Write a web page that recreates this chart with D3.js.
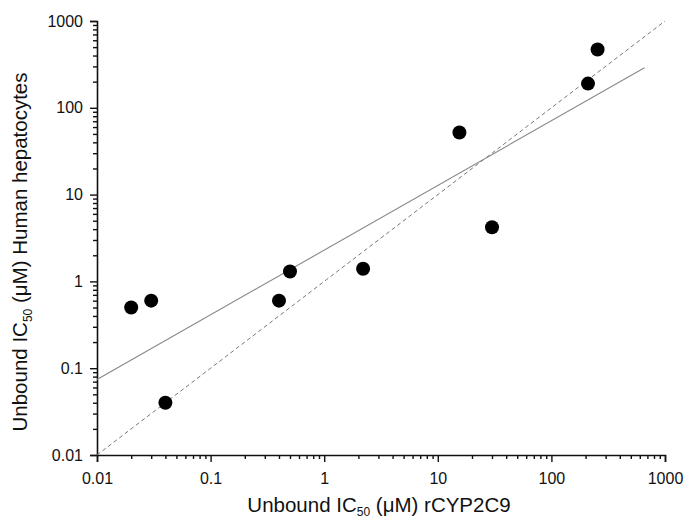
<!DOCTYPE html>
<meta charset="utf-8">
<style>
body { margin: 0; background: #fff; }
svg text { font-family: "Liberation Sans", Arial, sans-serif; fill: #111; }
</style>
<body>
<script src="https://d3js.org/d3.v7.min.js"></script>
<script>

// unbound IC50 values (uM)
var rcyp = [0.02, 0.03, 0.04, 0.4, 0.5, 2.2, 15.5, 30, 210, 255];
var hepato = [0.5, 0.6, 0.04, 0.6, 1.3, 1.4, 52, 4.2, 190, 470];

// line of unity and the fitted regression line (end points)
var unityX = [0.01, 1000], unityY = [0.01, 1000];
var fitX = [0.01, 660], fitY = [0.074, 290];

var tickValues = [0.01, 0.1, 1, 10, 100, 1000];
var tickLabels = ["0.01", "0.1", "1", "10", "100", "1000"];

var margin = {top: 21, right: 23, bottom: 66, left: 97},
    width = 688 - margin.left - margin.right,
    height = 521 - margin.top - margin.bottom;

var svg = d3.select("body").append("svg")
    .attr("width", 688)
    .attr("height", 521)
  .append("g")
    .attr("transform", "translate(" + margin.left + "," + margin.top + ")");

var x = d3.scaleLog().domain([0.01, 1000]).range([0, 568]);
var y = d3.scaleLog().domain([0.01, 1000]).range([height, 0]);

// minor ticks, 2..9 in every decade
var minor = [];
for (var e = -2; e < 3; e++) {
  for (var m = 2; m < 10; m++) minor.push(m * Math.pow(10, e));
}

function fmt(d) { return tickLabels[tickValues.indexOf(d)]; }

svg.append("g")
    .attr("transform", "translate(0," + height + ")")
    .call(d3.axisBottom(x).tickValues(tickValues).tickFormat(fmt).tickSize(7).tickPadding(11));
svg.append("g")
    .attr("transform", "translate(0," + height + ")")
    .call(d3.axisBottom(x).tickValues(minor).tickFormat("").tickSize(4))
    .select(".domain").remove();

svg.append("g")
    .call(d3.axisLeft(y).tickValues(tickValues).tickFormat(fmt).tickSize(7).tickPadding(7));
svg.append("g")
    .call(d3.axisLeft(y).tickValues(minor).tickFormat("").tickSize(4))
    .select(".domain").remove();

svg.selectAll(".domain").attr("stroke", "#111").attr("stroke-width", 1.6);
svg.selectAll(".tick line").attr("stroke", "#111").attr("stroke-width", 1.4);
svg.selectAll(".tick text")
    .style("font-size", "16px")
    .style("font-family", "'Liberation Sans', Arial, sans-serif")
    .attr("fill", "#111");

var line = d3.line()
    .x(function(d) { return x(d[0]); })
    .y(function(d) { return y(d[1]); });

svg.append("path")
    .datum(d3.zip(unityX, unityY))
    .attr("d", line)
    .attr("fill", "none")
    .attr("stroke", "#777")
    .attr("stroke-width", 1)
    .attr("stroke-dasharray", "4,3");

svg.append("path")
    .datum(d3.zip(fitX, fitY))
    .attr("d", line)
    .attr("fill", "none")
    .attr("stroke", "#888")
    .attr("stroke-width", 1.1);

svg.selectAll(".dot")
    .data(d3.zip(rcyp, hepato))
    .enter().append("circle")
    .attr("class", "dot")
    .attr("cx", function(d) { return x(d[0]); })
    .attr("cy", function(d) { return y(d[1]); })
    .attr("r", 7)
    .attr("fill", "#000");

// axis titles
var xt = svg.append("text")
    .attr("x", 379 - margin.left)
    .attr("y", 512 - margin.top)
    .attr("text-anchor", "middle")
    .style("font-size", "20.5px");
xt.append("tspan").text("Unbound IC");
xt.append("tspan").text("50").attr("dy", 4).style("font-size", "12px");
xt.append("tspan").text(" (\u03bcM) rCYP2C9").attr("dy", -4);

var yt = svg.append("text")
    .attr("transform", "translate(" + (27 - margin.left) + "," + (252 - margin.top) + ") rotate(-90)")
    .attr("text-anchor", "middle")
    .style("font-size", "20.5px");
yt.append("tspan").text("Unbound IC");
yt.append("tspan").text("50").attr("dy", 5).style("font-size", "12px");
yt.append("tspan").text(" (\u03bcM) Human hepatocytes").attr("dy", -5);

</script>
</body>
